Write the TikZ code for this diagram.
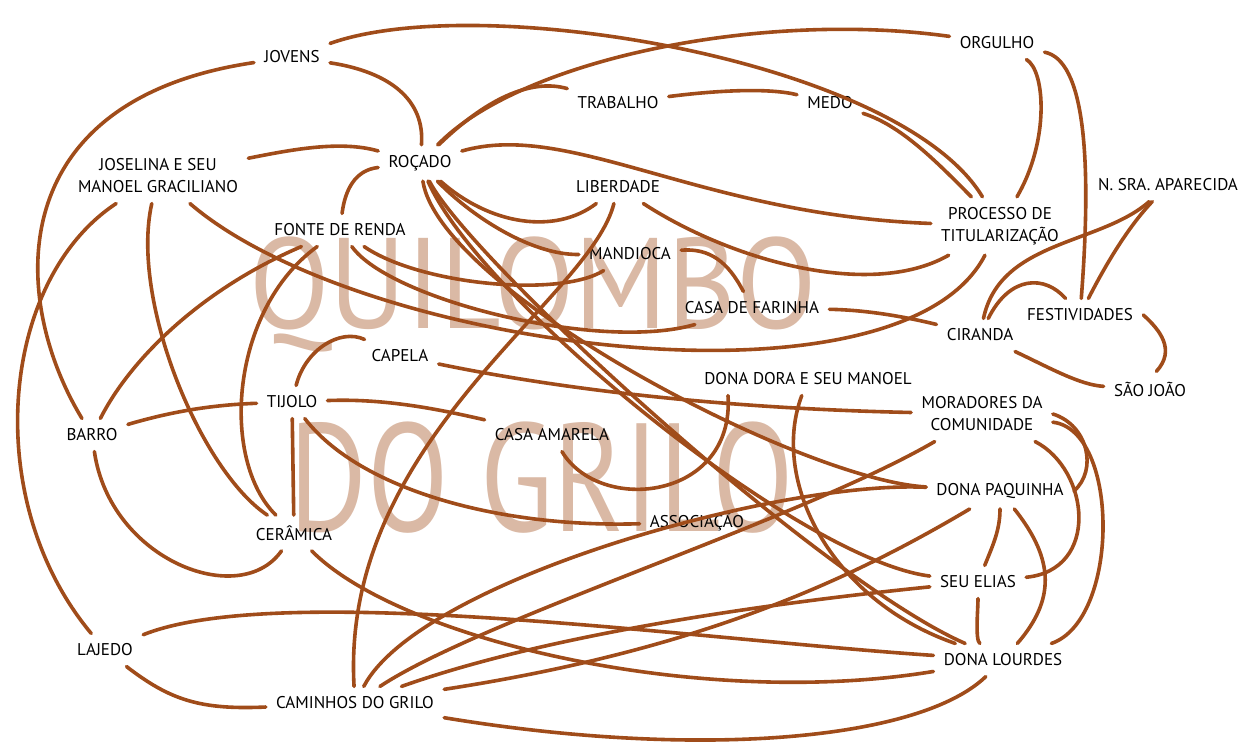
\documentclass[tikz,border=0pt]{standalone}
\usepackage{fontspec}
\setmainfont{PT Sans}
\definecolor{linkbrown}{RGB}{160,76,26}
\definecolor{marca}{RGB}{218,185,165}

\begin{document}
\begin{tikzpicture}[x=0.5pt, y=-0.5pt]
	\tikzstyle{link}=[draw=linkbrown, line width=1.8pt, line cap=round]
	\tikzstyle{termo}=[font=\fontsize{8.5}{11}\selectfont, inner sep=5pt, align=center]
	\tikzstyle{marcadagua}=[text=marca, font=\fontsize{70}{70}\selectfont, inner sep=0pt]
	\useasboundingbox (0,0) rectangle (1244,743);
	% marca d'agua
	\node[marcadagua] (marca1) at (533,294) {\scalebox{0.84}[0.92]{QUILOMBO}};
	\node[marcadagua] (marca2) at (542,478) {\scalebox{0.85}[1.1]{DO GRILO}};
	% termos
	\node[termo] (jovens) at (292,57) {JOVENS};
	\node[termo] (rocado) at (420,163) {ROÇADO};
	\node[termo] (trabalho) at (618,103) {TRABALHO};
	\node[termo] (medo) at (830,103) {MEDO};
	\node[termo] (orgulho) at (997,43) {ORGULHO};
	\node[termo] (joselina) at (158,176) {JOSELINA E SEU\\MANOEL GRACILIANO};
	\node[termo] (liberdade) at (618,187) {LIBERDADE};
	\node[termo] (processo) at (1000,226) {PROCESSO DE\\TITULARIZAÇÃO};
	\node[termo] (aparecida) at (1168,185) {N. SRA. APARECIDA};
	\node[termo] (fonte) at (340,230) {FONTE DE RENDA};
	\node[termo] (mandioca) at (630,254) {MANDIOCA};
	\node[termo] (farinha) at (752,308) {CASA DE FARINHA};
	\node[termo] (festividades) at (1080,315) {FESTIVIDADES};
	\node[termo] (ciranda) at (980,335) {CIRANDA};
	\node[termo] (capela) at (400,356) {CAPELA};
	\node[termo] (saojoao) at (1150,389) {SÃO JOÃO};
	\node[termo] (dora) at (808,379) {DONA DORA E SEU MANOEL};
	\node[termo] (tijolo) at (292,402) {TIJOLO};
	\node[termo] (moradores) at (982,414) {MORADORES DA\\COMUNIDADE};
	\node[termo] (barro) at (92,435) {BARRO};
	\node[termo] (amarela) at (552,435) {CASA AMARELA};
	\node[termo] (paquinha) at (1000,491) {DONA PAQUINHA};
	\node[termo] (associacao) at (697,522) {ASSOCIAÇÃO};
	\node[termo] (ceramica) at (294,533) {CERÂMICA};
	\node[termo] (elias) at (978,582) {SEU ELIAS};
	\node[termo] (lajedo) at (105,650) {LAJEDO};
	\node[termo] (lourdes) at (1003,660) {DONA LOURDES};
	\node[termo] (caminhos) at (355,703) {CAMINHOS DO GRILO};
	% ligacoes
	\draw[link] (jovens) .. controls (390,72) and (425,100) .. (rocado);
	\draw[link] (jovens) .. controls (0,100) and (10,300) .. (barro);
	\draw[link] (jovens) .. controls (480,-10) and (900,60) .. (processo);
	\draw[link] (rocado) .. controls (520,60) and (760,10) .. (orgulho);
	\draw[link] (rocado) .. controls (485,100) and (530,78) .. (trabalho);
	\draw[link] (trabalho) .. controls (720,90) and (770,88) .. (medo);
	\draw[link] (medo) .. controls (900,125) and (935,160) .. (processo);
	\draw[link] (rocado) .. controls (570,120) and (700,215) .. (processo);
	\draw[link] (liberdade) .. controls (730,260) and (870,300) .. (processo);
	\draw[link] (orgulho) .. controls (1045,70) and (1050,140) .. (processo);
	\draw[link] (orgulho) .. controls (1085,60) and (1092,160) .. (festividades);
	\draw[link] (aparecida) .. controls (1130,225) and (1108,260) .. (festividades);
	\draw[link] (aparecida) .. controls (1100,245) and (1000,240) .. (ciranda);
	\draw[link] (festividades) .. controls (1045,275) and (1010,275) .. (ciranda);
	\draw[link] (festividades.east) .. controls (1160,330) and (1176,350) .. (saojoao.70);
	\draw[link] (ciranda) .. controls (1050,368) and (1080,385) .. (saojoao);
	\draw[link] (farinha) .. controls (870,310) and (910,318) .. (ciranda);
	\draw[link] (joselina) .. controls (360,350) and (900,420) .. (processo);
	\draw[link] (rocado) .. controls (355,170) and (345,190) .. (fonte);
	\draw[link] (joselina) .. controls (290,150) and (340,140) .. (rocado);
	\draw[link] (joselina) .. controls (130,300) and (200,470) .. (ceramica);
	\draw[link] (joselina) .. controls (0,280) and (-20,500) .. (lajedo);
	\draw[link] (fonte) .. controls (200,290) and (130,360) .. (barro);
	\draw[link] (fonte) .. controls (230,310) and (220,460) .. (ceramica);
	\draw[link] (tijolo) -- (ceramica);
	\draw[link] (barro) .. controls (170,412) and (210,405) .. (tijolo);
	\draw[link] (barro) .. controls (110,560) and (240,610) .. (ceramica);
	\draw[link] (tijolo) .. controls (305,350) and (340,328) .. (capela);
	\draw[link] (tijolo) .. controls (390,398) and (450,412) .. (amarela);
	\draw[link] (tijolo) .. controls (360,490) and (500,528) .. (associacao);
	\draw[link] (capela) .. controls (540,385) and (700,408) .. (moradores);
	\draw[link] (amarela) .. controls (600,515) and (735,500) .. ([xshift=-40pt]dora.south);
	\draw[link] (dora) .. controls (770,480) and (830,600) .. (lourdes);
	\draw[link] (rocado) .. controls (470,215) and (530,255) .. (mandioca);
	\draw[link] (rocado) .. controls (490,225) and (555,235) .. (liberdade);
	\draw[link] (liberdade) .. controls (590,300) and (340,440) .. (caminhos);
	\draw[link] (fonte) .. controls (420,285) and (560,298) .. (mandioca);
	\draw[link] (fonte) .. controls (390,300) and (600,352) .. (farinha);
	\draw[link] (mandioca) .. controls (710,248) and (728,262) .. (farinha);
	\draw[link] (rocado) .. controls (440,290) and (800,480) .. (paquinha);
	\draw[link] (rocado) .. controls (480,300) and (800,560) .. (elias);
	\draw[link] (rocado) .. controls (470,260) and (820,580) .. (lourdes);
	\draw[link] (caminhos) .. controls (420,580) and (780,480) .. (paquinha);
	\draw[link] (caminhos) .. controls (480,620) and (800,520) .. (moradores);
	\draw[link] (caminhos) .. controls (560,630) and (800,600) .. (elias);
	\draw[link] (caminhos) .. controls (700,760) and (920,740) .. (lourdes);
	\draw[link] (lajedo) .. controls (280,580) and (700,640) .. (lourdes);
	\draw[link] (lajedo) .. controls (170,700) and (200,710) .. (caminhos);
	\draw[link] (ceramica) .. controls (400,640) and (700,710) .. (lourdes);
	\draw[link] (moradores.east) .. controls (1088,425) and (1098,470) .. (paquinha.east);
	\draw[link] (moradores) .. controls (1090,470) and (1100,570) .. (elias);
	\draw[link] (moradores) .. controls (1120,430) and (1120,620) .. (lourdes);
	\draw[link] (paquinha) .. controls (1055,560) and (1055,600) .. (lourdes);
	\draw[link] (paquinha) .. controls (1000,530) and (993,545) .. (elias);
	\draw[link] (elias) .. controls (978,610) and (975,640) .. (lourdes);
	\draw[link] (paquinha) .. controls (850,580) and (700,650) .. (caminhos);
\end{tikzpicture}
\end{document}
